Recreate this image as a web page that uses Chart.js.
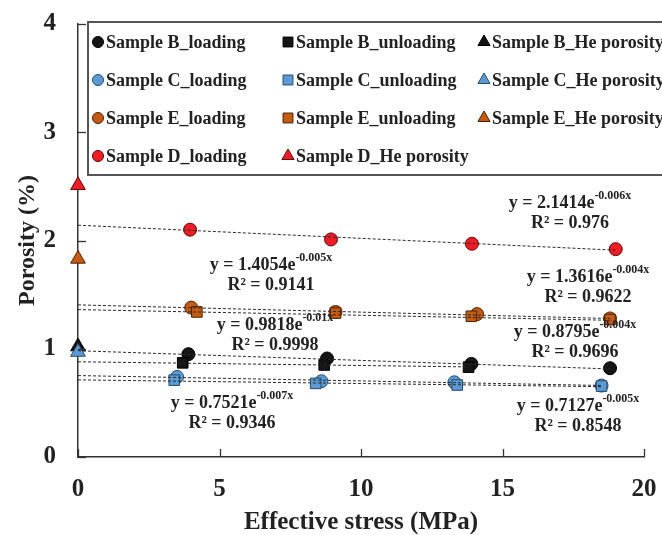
<!DOCTYPE html>
<html>
<head>
<meta charset="utf-8">
<script src="https://cdn.jsdelivr.net/npm/chart.js@4/dist/chart.umd.min.js"></script>
<style>
  html, body { margin: 0; padding: 0; background: #fff; }
  #wrap { width: 662px; height: 535px; }
</style>
</head>
<body>
<div id="wrap"><canvas id="c" width="662" height="535"></canvas></div>
<script>
// Porosity (%) against effective stress (MPa) for four shale samples
const xTickValues = [0, 5, 10, 15, 20];
const yTickValues = [0, 1, 2, 3, 4];

// Sample B
const stressB_load   = [3.9, 8.8, 13.9, 18.8];
const porosityB_load = [0.95, 0.91, 0.86, 0.82];
const stressB_unload   = [3.7, 8.7, 13.8];
const porosityB_unload = [0.87, 0.85, 0.83];
const heB = 1.02;

// Sample C
const stressC_load   = [3.5, 8.6, 13.3, 18.5];
const porosityC_load = [0.74, 0.70, 0.69, 0.66];
const stressC_unload   = [3.4, 8.4, 13.4, 18.5];
const porosityC_unload = [0.71, 0.68, 0.665, 0.655];
const heC = 0.97;

// Sample E
const stressE_load   = [4.0, 9.1, 14.1, 18.8];
const porosityE_load = [1.38, 1.34, 1.32, 1.28];
const stressE_unload   = [4.2, 9.1, 13.9, 18.8];
const porosityE_unload = [1.34, 1.33, 1.30, 1.27];
const heE = 1.83;

// Sample D
const stressD_load   = [3.96, 8.94, 13.92, 19.0];
const porosityD_load = [2.10, 2.01, 1.97, 1.92];
const heD = 2.51;

// Exponential fits y = a·e^(b·x) with their R²
const fitNames = ['D_loading', 'E_loading', 'E_unloading', 'B_loading', 'B_unloading', 'C_loading', 'C_unloading'];
const fitA  = [2.1414, 1.4054, 1.3616, 0.9818, 0.8795, 0.7521, 0.7127];
const fitB  = [-0.006, -0.005, -0.004, -0.01, -0.004, -0.007, -0.005];
const fitR2 = [0.976, 0.9141, 0.9622, 0.9998, 0.9696, 0.9346, 0.8548];

const COLORS = {
  B: { fill: '#151515', edge: '#000000' },
  C: { fill: '#5b9bd5', edge: '#2b4a68' },
  E: { fill: '#c55a11', edge: '#4a2208' },
  D: { fill: '#ee1c24', edge: '#5a0a0a' }
};
const SERIF = "'Liberation Serif', 'Times New Roman', serif";

function pts(xs, ys) { return xs.map((v, i) => ({ x: v, y: ys[i] })); }

const seriesDefs = [
  { label: 'Sample B_loading',     s: 'B', style: 'circle',   data: pts(stressB_load, porosityB_load) },
  { label: 'Sample B_unloading',   s: 'B', style: 'rect',     data: pts(stressB_unload, porosityB_unload) },
  { label: 'Sample B_He porosity', s: 'B', style: 'triangle', data: [{ x: 0, y: heB }] },
  { label: 'Sample C_loading',     s: 'C', style: 'circle',   data: pts(stressC_load, porosityC_load) },
  { label: 'Sample C_unloading',   s: 'C', style: 'rect',     data: pts(stressC_unload, porosityC_unload) },
  { label: 'Sample C_He porosity', s: 'C', style: 'triangle', data: [{ x: 0, y: heC }] },
  { label: 'Sample E_loading',     s: 'E', style: 'circle',   data: pts(stressE_load, porosityE_load) },
  { label: 'Sample E_unloading',   s: 'E', style: 'rect',     data: pts(stressE_unload, porosityE_unload) },
  { label: 'Sample E_He porosity', s: 'E', style: 'triangle', data: [{ x: 0, y: heE }] },
  { label: 'Sample D_loading',     s: 'D', style: 'circle',   data: pts(stressD_load, porosityD_load) },
  { label: 'Sample D_He porosity', s: 'D', style: 'triangle', data: [{ x: 0, y: heD }] }
];

const RADIUS = { circle: 6.5, rect: 7.5, triangle: 8.5 };

const datasets = seriesDefs.map((d, i) => ({
  type: 'scatter',
  label: d.label,
  data: d.data,
  pointStyle: d.style,
  pointRadius: RADIUS[d.style],
  pointBackgroundColor: COLORS[d.s].fill,
  pointBorderColor: COLORS[d.s].edge,
  pointBorderWidth: 1,
  clip: false,
  order: 100 - i
}));

// fitted trend lines run from zero stress to the last measured stress
const fitEndX = [stressD_load, stressE_load, stressE_unload, stressB_load, stressB_unload, stressC_load, stressC_unload]
  .map(a => a[a.length - 1]);
fitA.forEach((a, i) => {
  const xe = fitEndX[i];
  datasets.push({
    type: 'line',
    label: 'fit ' + fitNames[i],
    data: [{ x: 0, y: a }, { x: xe, y: a * Math.exp(fitB[i] * xe) }],
    borderColor: '#2a2a2a',
    borderWidth: 1,
    borderDash: [3, 2],
    pointRadius: 0,
    fill: false,
    clip: false,
    order: -1
  });
});

// equation label anchors (centre x, centre y of first line) in canvas pixels
const eqAnchor = [
  [570, 203], [271, 265], [588, 277], [275, 325], [575, 332], [232, 403], [578, 406]
];

function drawMarker(ctx, style, x, y, r, fill, edge) {
  ctx.save();
  ctx.fillStyle = fill;
  ctx.strokeStyle = edge;
  ctx.lineWidth = 1;
  ctx.beginPath();
  if (style === 'circle') {
    ctx.arc(x, y, r, 0, Math.PI * 2);
  } else if (style === 'rect') {
    const s = r * Math.SQRT1_2;
    ctx.rect(x - s, y - s, 2 * s, 2 * s);
  } else {
    const w = r * Math.sqrt(3) / 2;
    ctx.moveTo(x, y - r);
    ctx.lineTo(x + w, y + r / 2);
    ctx.lineTo(x - w, y + r / 2);
    ctx.closePath();
  }
  ctx.fill();
  ctx.stroke();
  ctx.restore();
}

const decorations = {
  id: 'decorations',
  afterDatasetsDraw(chart) {
    const { ctx, chartArea: ca, scales: { x, y } } = chart;
    ctx.save();
    // inward tick marks
    ctx.strokeStyle = '#333';
    ctx.lineWidth = 1.3;
    xTickValues.forEach(v => {
      const px = Math.round(x.getPixelForValue(v)) + 0.5;
      ctx.beginPath(); ctx.moveTo(px, ca.bottom); ctx.lineTo(px, ca.bottom - 8); ctx.stroke();
    });
    yTickValues.forEach(v => {
      const py = Math.round(y.getPixelForValue(v)) + 0.5;
      ctx.beginPath(); ctx.moveTo(ca.left, py); ctx.lineTo(ca.left + 8, py); ctx.stroke();
    });

    // fit equations
    ctx.fillStyle = '#222';
    ctx.textBaseline = 'middle';
    const mainFont = 'bold 18px ' + SERIF;
    const supFont = 'bold 12px ' + SERIF;
    fitA.forEach((a, i) => {
      const [cx, cy] = eqAnchor[i];
      const main = 'y = ' + String(a) + 'e';
      const sup = String(fitB[i]) + 'x';
      ctx.font = mainFont;
      const wm = ctx.measureText(main).width;
      ctx.font = supFont;
      const ws = ctx.measureText(sup).width;
      const left = cx - (wm + ws) / 2;
      ctx.font = mainFont;
      ctx.textAlign = 'left';
      ctx.fillText(main, left, cy);
      ctx.font = supFont;
      ctx.fillText(sup, left + wm, cy - 7);
      ctx.font = mainFont;
      ctx.textAlign = 'center';
      ctx.fillText('R\u00B2 = ' + String(fitR2[i]), cx, cy + 20);
    });
    ctx.restore();
  },
  afterDraw(chart) {
    const { ctx } = chart;
    ctx.save();
    // legend frame
    ctx.fillStyle = '#fff';
    ctx.fillRect(88, 22, 590, 153);
    ctx.strokeStyle = '#555';
    ctx.lineWidth = 2;
    ctx.strokeRect(88, 22, 590, 153);
    const colX = [98, 288, 484];
    const rowY = [42, 80, 118, 156];
    const slots = [
      [0, 0], [1, 0], [2, 0],
      [0, 1], [1, 1], [2, 1],
      [0, 2], [1, 2], [2, 2],
      [0, 3], [1, 3]
    ];
    const legendR = { circle: 5.5, rect: 7, triangle: 7 };
    ctx.font = 'bold 18px ' + SERIF;
    ctx.textAlign = 'left';
    ctx.textBaseline = 'middle';
    seriesDefs.forEach((d, i) => {
      const [c, r] = slots[i];
      const mx = colX[c], my = rowY[r];
      drawMarker(ctx, d.style, mx, my, legendR[d.style], COLORS[d.s].fill, COLORS[d.s].edge);
      ctx.fillStyle = '#222';
      ctx.fillText(d.label, mx + 8, my + 1);
    });
    ctx.restore();
  }
};

function fixBox(size, prop) {
  return s => {
    s[prop] = size;
    s.paddingTop = 0; s.paddingBottom = 0; s.paddingLeft = 0; s.paddingRight = 0;
  };
}

new Chart(document.getElementById('c'), {
  data: { datasets },
  options: {
    responsive: false,
    animation: false,
    devicePixelRatio: 1,
    layout: { padding: { top: 24, right: 18, left: 0, bottom: 0 } },
    plugins: { legend: { display: false }, tooltip: { enabled: false } },
    scales: {
      x: {
        type: 'linear', min: 0, max: 20,
        afterFit: fixBox(78, 'height'),
        afterBuildTicks: s => { s.ticks = xTickValues.map(v => ({ value: v })); },
        grid: { display: false, drawTicks: false },
        border: { display: true, color: '#333', width: 1.5 },
        ticks: { color: '#222', padding: 18, font: { family: SERIF, size: 25, weight: 'bold' } },
        title: { display: true, text: 'Effective stress (MPa)', color: '#222',
                 padding: { top: 0, bottom: 0 }, font: { family: SERIF, size: 25, weight: 'bold', lineHeight: 1 } }
      },
      y: {
        type: 'linear', min: 0, max: 4,
        afterFit: fixBox(78, 'width'),
        afterBuildTicks: s => { s.ticks = yTickValues.map(v => ({ value: v })); },
        grid: { display: false, drawTicks: false },
        border: { display: true, color: '#333', width: 1.5 },
        ticks: { color: '#222', padding: 22, font: { family: SERIF, size: 25, weight: 'bold' } },
        title: { display: true, text: 'Porosity (%)', color: '#222',
                 padding: { top: 16, bottom: 0 }, font: { family: SERIF, size: 24, weight: 'bold', lineHeight: 1 } }
      }
    }
  },
  plugins: [decorations]
});
</script>
</body>
</html>
